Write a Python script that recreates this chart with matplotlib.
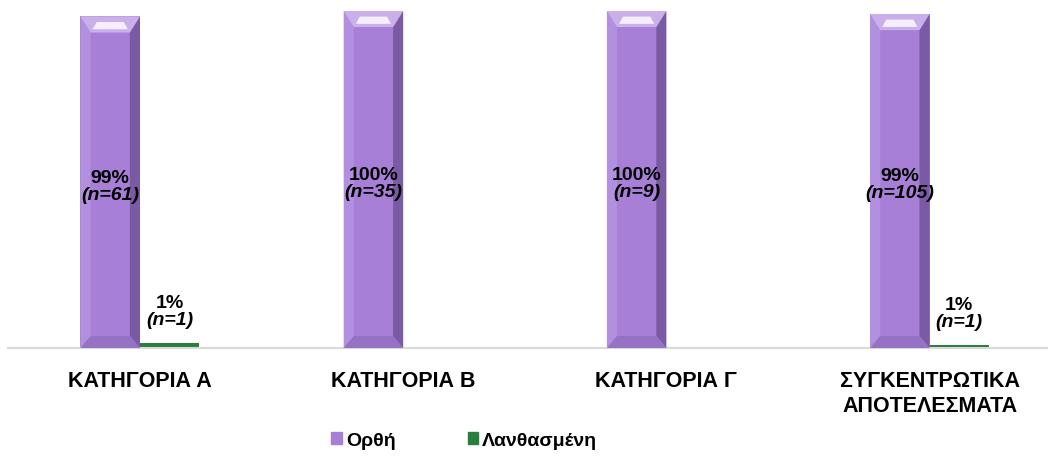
import matplotlib

matplotlib.use("Agg")
import matplotlib.pyplot as plt
import numpy as np
from matplotlib.patches import Patch

plt.rcParams["font.family"] = ["Liberation Sans", "DejaVu Sans"]

categories = ["ΚΑΤΗΓΟΡΙΑ Α", "ΚΑΤΗΓΟΡΙΑ Β", "ΚΑΤΗΓΟΡΙΑ Γ", "ΣΥΓΚΕΝΤΡΩΤΙΚΑ\nΑΠΟΤΕΛΕΣΜΑΤΑ"]
series_names = ["Ορθή", "Λανθασμένη"]
correct_pct = [98.4, 100.0, 100.0, 99.1]
wrong_pct = [1.6, 0.0, 0.0, 0.9]
correct_lbl = ["99%", "100%", "100%", "99%"]
correct_n = ["(n=61)", "(n=35)", "(n=9)", "(n=105)"]
wrong_lbl = ["1%", "", "", "1%"]
wrong_n = ["(n=1)", "", "", "(n=1)"]

PURPLE = "#a77fd6"
GREEN = "#2a7e3b"


def bevel_bar(ax, xc, width, top, dx_frac=0.17, dy_top=4.8, dy_bot=3.6):
    """Draw a bar with an Excel-like bevel using four trapezoids."""
    x0, x1 = xc - width / 2, xc + width / 2
    dx = width * dx_frac
    ax.fill([x0, x1, x1, x0], [0, 0, top, top], color=PURPLE, lw=0, zorder=2)
    # left
    ax.fill([x0, x0 + dx, x0 + dx, x0], [0, dy_bot, top - dy_top, top],
            color="#b390df", lw=0, zorder=3)
    # right
    ax.fill([x1, x1 - dx, x1 - dx, x1], [0, dy_bot, top - dy_top, top],
            color="#7a5ba3", lw=0, zorder=3)
    # bottom
    ax.fill([x0, x1, x1 - dx, x0 + dx], [0, 0, dy_bot, dy_bot],
            color="#9573c4", lw=0, zorder=3)
    # top
    ax.fill([x0, x1, x1 - dx, x0 + dx], [top, top, top - dy_top, top - dy_top],
            color="#c9b0ea", lw=0, zorder=3)
    ax.fill([x0 + dx * 1.6, x1 - dx * 1.6, x1 - dx * 1.2, x0 + dx * 1.2],
            [top - dy_top * 0.35, top - dy_top * 0.35, top - dy_top * 0.8, top - dy_top * 0.8],
            color="#f6eefd", lw=0, zorder=4)


fig = plt.figure(figsize=(10.48, 4.77), dpi=100)
ax = fig.add_axes([0.008, 0.268, 0.992, 0.707])

x = np.arange(len(categories))
w = 0.226

for i in range(len(x)):
    bevel_bar(ax, x[i] - w / 2, w, correct_pct[i])
ax.bar(x + w / 2, wrong_pct, w, color=GREEN, zorder=2)

for i in range(len(x)):
    cx = x[i] - w / 2
    ax.text(cx, correct_pct[i] / 2 - 1.0, correct_lbl[i], ha="center", va="bottom",
            fontsize=14, fontweight="bold", zorder=5)
    ax.text(cx, correct_pct[i] / 2 - 1.0, correct_n[i], ha="center", va="top",
            fontsize=14, fontweight="bold", style="italic", zorder=5)
    if wrong_lbl[i]:
        gx = x[i] + w / 2
        ax.text(gx, wrong_pct[i] + 9.5, wrong_lbl[i], ha="center", va="bottom",
                fontsize=14, fontweight="bold", zorder=5)
        ax.text(gx, wrong_pct[i] + 9.5, wrong_n[i], ha="center", va="top",
                fontsize=14, fontweight="bold", style="italic", zorder=5)

ax.set_xlim(-0.5, 3.45)
ax.set_ylim(0, 100)
ax.set_yticks([])
ax.set_xticks(x)
ax.set_xticklabels(categories, fontsize=15.5, fontweight="bold")
ax.tick_params(axis="x", length=0, pad=16)
for s in ("top", "right", "left"):
    ax.spines[s].set_visible(False)
ax.spines["bottom"].set_color("#d9d9d9")
ax.spines["bottom"].set_linewidth(1.5)

handles = [Patch(color=PURPLE), Patch(color=GREEN)]
leg = fig.legend(handles, series_names, loc="center", bbox_to_anchor=(0.443, 0.074),
                 ncol=2, frameon=False, handlelength=0.55, handleheight=0.55,
                 handletextpad=0.2, columnspacing=3.7,
                 prop={"size": 14, "weight": "bold"})

fig.savefig("out.png", dpi=100)
